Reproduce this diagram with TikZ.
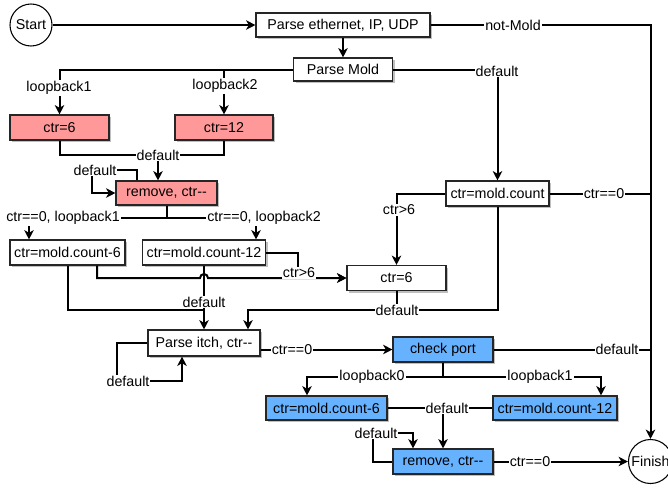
\documentclass[tikz,border=0pt]{standalone}
\usepackage{fontspec}
\setmainfont{Liberation Sans}
\usetikzlibrary{arrows.meta,shadows}
\definecolor{pinkfill}{HTML}{FF9999}
\definecolor{bluefill}{HTML}{66B2FF}
\begin{document}
\begin{tikzpicture}[x=0.75pt,y=-0.75pt,
  font=\fontsize{10.7}{12}\selectfont,
  bx/.style args={#1/#2}{draw=black!85, line width=0.8pt, minimum width=#1*0.75pt,
    minimum height=#2*0.75pt, inner sep=0pt,
    drop shadow={shadow xshift=1.5pt, shadow yshift=-1.5pt, fill=black, opacity=0.25}},
  wbox/.style={bx=#1, fill=white},
  pbox/.style={bx=#1, fill=pinkfill},
  bbox/.style={bx=#1, fill=bluefill},
  term/.style={circle, draw=black, line width=0.8pt, fill=white, minimum size=#1*0.75pt, inner sep=0pt},
  ln/.style={line width=1.5pt, draw=black},
  arr/.style={-{Stealth[length=7pt,width=7pt,inset=2pt]}},
  lbl/.style={fill=white, inner sep=0.8pt}]
\useasboundingbox (0,0) rectangle (668,487);

% nodes
\node[term=42] (st) at (31,25) {Start};
\node[term=44] (fin) at (650.5,461.5) {Finish};
\node[wbox={174/24}] (pe) at (343,25) {Parse ethernet, IP, UDP};
\node[wbox={99/23}] (pm) at (343,69.5) {Parse Mold};
\node[pbox={99/25}] (c6) at (59.5,127.5) {ctr=6};
\node[pbox={98/25}] (c12) at (224,127.5) {ctr=12};
\node[pbox={101/24}] (rm) at (166.5,193) {remove, ctr-{}-};
\node[wbox={115/25}] (cm6) at (67.5,252.5) {ctr=mold.count-6};
\node[wbox={123/25}] (cm12) at (204,252.5) {ctr=mold.count-12};
\node[wbox={103/25}] (ctm) at (497.5,193.5) {ctr=mold.count};
\node[wbox={99/25}] (c6b) at (396.5,278) {ctr=6};
\node[wbox={112/26}] (pi) at (204,343) {Parse itch, ctr-{}-};
\node[bbox={100/25}] (cp) at (443,349.5) {check port};
\node[bbox={121/24}] (cb6) at (326.5,408) {ctr=mold.count-6};
\node[bbox={124/24}] (cb12) at (555,408) {ctr=mold.count-12};
\node[bbox={100/25}] (rb) at (443,461.5) {remove, ctr-{}-};

% connectors
\draw[ln,arr] (st) -- (pe);
\draw[ln,arr] (pe.south) -- (pe.south |- pm.north);
\draw[ln,arr] (pe.east) -| (fin.north);
\draw[ln,arr] (pm.east) -| (ctm.north);
\draw[ln,arr] (pm.west) -| (c6.north);
\draw[ln,arr] (c12.north |- pm.west) -- (c12.north);
\draw[ln,arr] (c6.south) |- (158,155) -- (158,0 |- rm.north);
\draw[ln] (c12.south) |- (158,155);
\draw[ln,arr] (137,0 |- rm.north) -- (137,170) -- (92,170) |- (rm.west);
\draw[ln,arr] (rm.south) |- (29,218) -- (29,0 |- cm6.north);
\draw[ln,arr] (rm.south) |- (256,218) -- (256,0 |- cm12.north);
\draw[ln] (ctm.east) -- (ctm.east -| fin.north);
\draw[ln,arr] (ctm.west) -| (c6b.north);
\draw[ln,arr] (c6b.south) |- (248,310) -- (248,0 |- pi.north);
\draw[ln] (ctm.south) |- (c6b.south |- 0,310);
\draw[ln] (cm6.south) |- (pi.north |- 0,310);
\draw[ln,arr] (cm12.south) -- (cm12.south |- pi.north);
\draw[ln,arr] (97,0 |- cm6.south) |- (200,278) arc[start angle=180,end angle=360,radius=4] -- (c6b.west);
\draw[ln,arr] (cm12.east) -| (298,278) -- (c6b.west);
\draw[ln,arr] (pi.west) -| (117,381) -| (182,0 |- pi.south);
\draw[ln,arr] (pi.east |- cp.west) -- (cp.west);
\draw[ln] (cp.east) -- (cp.east -| fin.north);
\draw[ln,arr] (cp.south) |- (307,377) -- (307,0 |- cb6.north);
\draw[ln,arr] (cp.south) |- (601,377) -- (601,0 |- cb12.north);
\draw[ln] (cb6.east) -- (cb12.west);
\draw[ln,arr] (rb.north |- cb6.east) -- (rb.north);
\draw[ln,arr] (rb.west) -| (373,433) -| (413,0 |- rb.north);
\draw[ln,arr] (rb.east) -- (fin.west);

% labels
\node[lbl] at (513,25) {not-Mold};
\node[lbl] at (497,71) {default};
\node[lbl] at (59,88) {loopback1};
\node[lbl] at (225,86) {loopback2};
\node[lbl] at (158,155) {default};
\node[lbl] at (95,170) {default};
\node[lbl] at (63,218) {ctr==0, loopback1};
\node[lbl] at (264,218) {ctr==0, loopback2};
\node[lbl] at (604,193.5) {ctr==0};
\node[lbl] at (399,210) {ctr>6};
\node[lbl] at (397,310) {default};
\node[lbl] at (204,302) {default};
\node[lbl] at (299,273) {ctr>6};
\node[lbl] at (128,381) {default};
\node[lbl] at (292,349.5) {ctr==0};
\node[lbl] at (617,349.5) {default};
\node[lbl] at (372,377) {loopback0};
\node[lbl] at (540,377) {loopback1};
\node[lbl] at (447,408) {default};
\node[lbl] at (376,433) {default};
\node[lbl] at (530,461.5) {ctr==0};
\end{tikzpicture}
\end{document}
